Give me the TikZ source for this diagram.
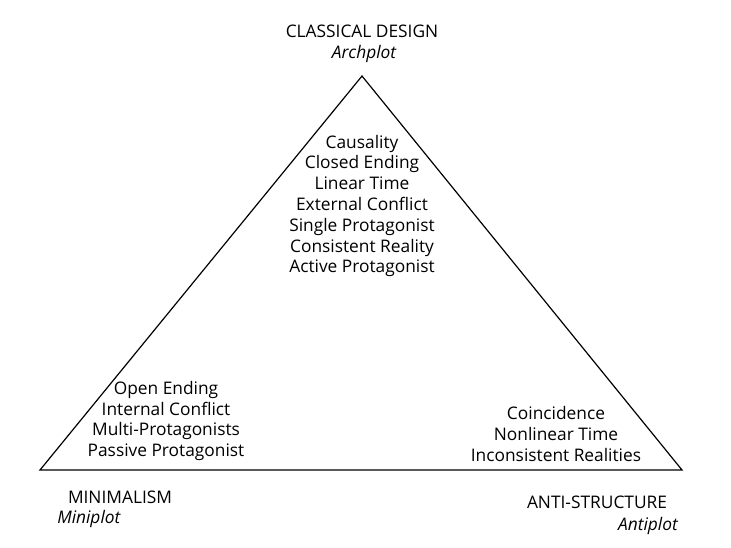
\documentclass[tikz,border=0pt]{standalone}
\usepackage{fontspec}
\setmainfont{Open Sans}

\begin{document}
\begin{tikzpicture}[x=0.75pt,y=-0.75pt,
  every node/.append style={font=\fontsize{13}{15.6}\selectfont},
  traits/.style={align=center,inner sep=0pt},
  pole/.style={inner sep=0pt,anchor=base},
  subpole/.style={inner sep=0pt,font=\fontsize{13}{15.6}\selectfont\itshape}]
  \useasboundingbox (0,0) rectangle (731,547);
  \coordinate (apex) at (362,76);
  \coordinate (minl) at (40,470);
  \coordinate (antr) at (682,470);
  \draw[line width=0.9pt,line join=miter] (apex) -- (minl) -- (antr) -- cycle;

  % corner names
  \node[pole] (arch) at (362,37) {CLASSICAL DESIGN};
  \node[subpole,anchor=base] (archsub) at (364,58) {Archplot};
  \node[pole] (mini) at (120,503) {MINIMALISM};
  \node[subpole,anchor=base west] (minisub) at (57,523) {Miniplot};
  \node[pole] (anti) at (597,508) {ANTI-STRUCTURE};
  \node[subpole,anchor=base east] (antisub) at (678,530) {Antiplot};

  % traits inside the triangle
  \node[traits] (archlist) at (362,206) {Causality\\Closed Ending\\Linear Time\\External Conflict\\Single Protagonist\\Consistent Reality\\Active Protagonist};
  \node[traits] (minilist) at (166,421) {Open Ending\\Internal Conflict\\Multi-Protagonists\\Passive Protagonist};
  \node[traits] (antilist) at (556,434) {Coincidence\\Nonlinear Time\\Inconsistent Realities};
\end{tikzpicture}
\end{document}
